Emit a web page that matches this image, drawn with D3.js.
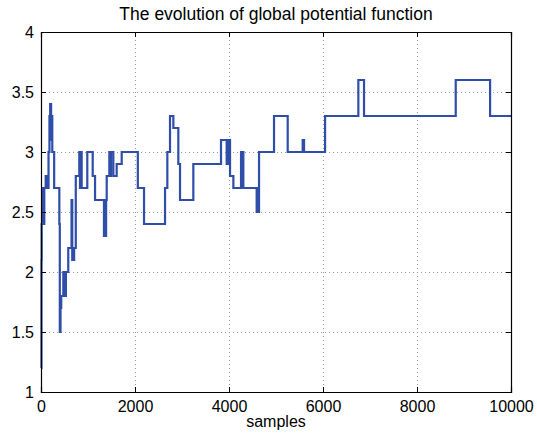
<!DOCTYPE html>
<html>
<head>
<meta charset="utf-8">
<script src="https://cdn.jsdelivr.net/npm/d3@7"></script>
<style>
  body { margin: 0; background: #fff; }
  text { font-family: "Liberation Sans", Arial, Helvetica, sans-serif; }
</style>
</head>
<body>
<div id="chart"></div>
<script>
// step-function: sample where each level starts, and the level
var stepStart = [0, 10, 14, 45, 60, 70, 100, 140, 160, 180, 195, 215, 230, 240, 280,
  390, 400, 415, 430, 475, 490, 530, 580, 650, 665, 705, 740, 815, 830, 845, 865,
  985, 1100, 1150, 1340, 1360, 1370, 1385, 1398, 1454, 1475, 1490, 1539, 1610, 1717,
  2060, 2192, 2639, 2688, 2745, 2816, 2922, 2958, 3241, 3830, 3951, 3980, 4022, 4093,
  4256, 4275, 4290, 4305, 4589, 4605, 4620, 4639, 4958, 5249, 5568, 5597, 6044, 6752,
  6873, 8824, 9555, 10000];
var stepValue = [1.2, 2.1, 2.4, 2.7, 2.4, 2.7, 2.8, 2.7, 3.0, 3.3, 3.4, 3.1, 3.3, 3.0, 2.7,
  2.4, 1.5, 1.7, 1.8, 2.0, 1.8, 2.0, 2.2, 2.6, 2.1, 2.2, 2.8, 3.0, 2.7, 3.0, 2.7,
  3.0, 2.8, 2.6, 2.3, 2.6, 2.3, 2.6, 2.8, 3.0, 2.8, 3.0, 2.8, 2.9, 3.0,
  2.7, 2.4, 2.7, 3.0, 3.3, 3.2, 2.9, 2.6, 2.9, 3.1, 2.9, 3.1, 2.8, 2.7,
  3.0, 2.7, 3.0, 2.7, 2.5, 2.7, 2.5, 3.0, 3.3, 3.0, 3.1, 3.0, 3.3, 3.6,
  3.3, 3.6, 3.3, 3.3];

var xTicks = [0, 2000, 4000, 6000, 8000, 10000];
var yTicks = [1, 1.5, 2, 2.5, 3, 3.5, 4];
var titleText = "The evolution of global potential function";
var xLabel = "samples";

function drawChart() {
  var W = 537, H = 436;
  var mLeft = 41, mRight = 511, mTop = 32, mBottom = 392;

  var svg = d3.select("#chart").append("svg")
    .attr("width", W).attr("height", H);

  var x = d3.scaleLinear().domain([0, 10000]).range([mLeft, mRight]);
  var y = d3.scaleLinear().domain([1, 4]).range([mBottom, mTop]);

  // dotted grid
  svg.append("g").selectAll("line")
    .data(xTicks.slice(1, -1)).enter().append("line")
    .attr("x1", d => x(d) + 0.5).attr("x2", d => x(d) + 0.5)
    .attr("y1", mTop).attr("y2", mBottom)
    .attr("stroke", "#999").attr("stroke-width", 1)
    .attr("stroke-dasharray", "1,3");
  svg.append("g").selectAll("line")
    .data(yTicks.slice(1, -1)).enter().append("line")
    .attr("x1", mLeft).attr("x2", mRight)
    .attr("y1", d => y(d) + 0.5).attr("y2", d => y(d) + 0.5)
    .attr("stroke", "#999").attr("stroke-width", 1)
    .attr("stroke-dasharray", "1,3");

  // the series
  var pts = stepStart.map((s, i) => [s, stepValue[i]]);
  var line = d3.line()
    .x(d => x(d[0]))
    .y(d => y(d[1]))
    .curve(d3.curveStepAfter);
  svg.append("path")
    .datum(pts)
    .attr("d", line)
    .attr("fill", "none")
    .attr("stroke", "#2e4ea8")
    .attr("stroke-width", 2.2)
    .attr("stroke-linejoin", "miter");

  // axes, matlab box style with inward ticks
  var tk = 5;
  svg.append("g").attr("transform", "translate(0," + mBottom + ")")
    .call(d3.axisBottom(x).tickValues(xTicks).tickSize(-tk).tickPadding(tk + 4)
      .tickFormat(d3.format("d")));
  svg.append("g").attr("transform", "translate(0," + mTop + ")")
    .call(d3.axisTop(x).tickValues(xTicks).tickSize(-tk).tickFormat(""));
  svg.append("g").attr("transform", "translate(" + mLeft + ",0)")
    .call(d3.axisLeft(y).tickValues(yTicks).tickSize(-tk).tickPadding(tk + 2)
      .tickFormat(d3.format("")));
  svg.append("g").attr("transform", "translate(" + mRight + ",0)")
    .call(d3.axisRight(y).tickValues(yTicks).tickSize(-tk).tickFormat(""));

  svg.selectAll(".domain").attr("stroke", "#000").attr("stroke-width", 1.2);
  svg.selectAll(".tick line").attr("stroke", "#000");
  svg.selectAll(".tick text")
    .attr("font-size", 16)
    .attr("fill", "#000")
    .style("font-family", "'Liberation Sans', Arial, sans-serif");

  svg.append("text")
    .attr("x", (mLeft + mRight) / 2).attr("y", 20)
    .attr("text-anchor", "middle")
    .attr("font-size", 17.5)
    .text(titleText);

  svg.append("text")
    .attr("x", (mLeft + mRight) / 2).attr("y", 427)
    .attr("text-anchor", "middle")
    .attr("font-size", 16)
    .text(xLabel);
}

drawChart();
</script>
</body>
</html>
